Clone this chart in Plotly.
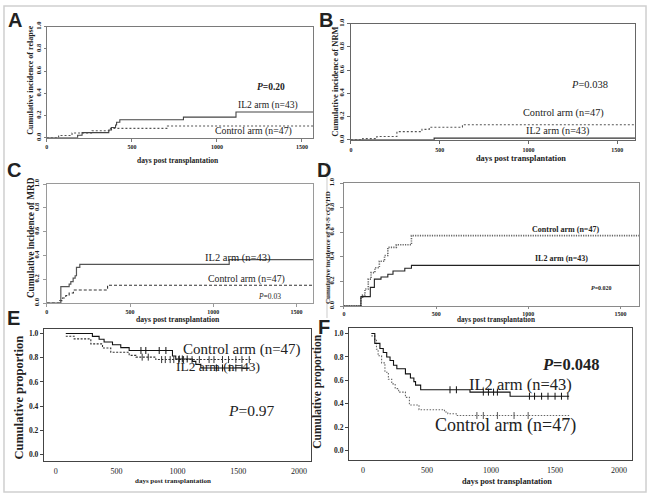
import plotly.graph_objects as go

W, H = 648, 497

# ---------------- data ----------------
# Panel A: cumulative incidence of relapse
A_il2_t = [0, 181, 207, 364, 380, 404, 410, 429, 803, 1112, 1565]
A_il2_v = [0, 0.023, 0.047, 0.070, 0.093, 0.116, 0.140, 0.163, 0.186, 0.233, 0.233]
A_ctl_t = [0, 69, 148, 266, 374, 709, 1565]
A_ctl_v = [0, 0.021, 0.043, 0.064, 0.085, 0.106, 0.106]

# Panel B: cumulative incidence of NRM
B_ctl_t = [0, 66, 146, 259, 400, 441, 628, 1600]
B_ctl_v = [0, 0.010, 0.028, 0.070, 0.090, 0.108, 0.130, 0.130]
B_il2_t = [0, 469, 1600]
B_il2_v = [0, 0.015, 0.015]

# Panel C: cumulative incidence of MRD
C_il2_t = [0, 84, 134, 144, 158, 170, 178, 198, 1096, 1600]
C_il2_v = [0, 0.138, 0.160, 0.180, 0.210, 0.230, 0.300, 0.325, 0.366, 0.366]
C_ctl_t = [0, 78, 94, 114, 134, 160, 365, 1600]
C_ctl_v = [0, 0.021, 0.043, 0.064, 0.085, 0.110, 0.150, 0.150]

# Panel D: cumulative incidence of M-S cGVHD
D_il2_t = [0, 92, 143, 165, 201, 238, 266, 330, 366, 1600]
D_il2_v = [0, 0.077, 0.152, 0.219, 0.237, 0.259, 0.285, 0.307, 0.331, 0.331]
D_ctl_t = [0, 92, 101, 114, 132, 147, 168, 192, 220, 238, 284, 366, 1600]
D_ctl_v = [0, 0.072, 0.090, 0.139, 0.219, 0.272, 0.312, 0.365, 0.411, 0.477, 0.499, 0.573, 0.573]

# Panel E: cumulative proportion (KM)
E_il2_t = [82, 301, 356, 397, 466, 534, 603, 959, 986, 1123, 1151, 1192, 1595]
E_il2_v = [1.0, 0.977, 0.953, 0.930, 0.907, 0.884, 0.860, 0.814, 0.790, 0.770, 0.745, 0.716, 0.716]
E_ctl_t = [82, 151, 288, 384, 452, 603, 658, 822, 1603]
E_ctl_v = [0.978, 0.956, 0.915, 0.880, 0.845, 0.820, 0.805, 0.785, 0.785]
E_il2_cens = [700, 740, 850, 905, 1015, 1040, 1080, 1320, 1370, 1430, 1480, 1530]
E_ctl_cens = [710, 760, 870, 900, 940, 970, 1010, 1050, 1120, 1180, 1260, 1300,
              1370, 1420, 1480, 1530, 1590]

# Panel F: cumulative proportion (KM)
F_il2_t = [66, 93, 133, 159, 186, 212, 239, 265, 332, 371, 398, 411, 451, 836, 1149, 1610]
F_il2_v = [1.0, 0.916, 0.872, 0.838, 0.800, 0.770, 0.730, 0.700, 0.656, 0.620, 0.590,
           0.560, 0.520, 0.500, 0.465, 0.465]
F_ctl_t = [66, 93, 106, 119, 146, 172, 199, 225, 252, 279, 332, 363, 438, 637, 663, 729, 1610]
F_ctl_v = [0.980, 0.950, 0.866, 0.810, 0.750, 0.670, 0.610, 0.570, 0.530, 0.500, 0.455,
           0.390, 0.350, 0.330, 0.315, 0.300, 0.300]
F_il2_cens = [680, 730, 940, 980, 1020, 1050, 1300, 1340, 1395, 1445, 1500, 1550, 1600]
F_ctl_cens = [890, 940, 1050, 1180, 1290]

ci_xticks = [0, 500, 1000, 1500]
km_xticks = [0, 500, 1000, 1500, 2000]
yticks = [0, 0.2, 0.4, 0.6, 0.8, 1.0]
ytick_text = ["0.0", "0.2", "0.4", "0.6", "0.8", "1.0"]

SERIF = "Liberation Serif, Times New Roman, serif"
SANS = "Liberation Sans, Arial, sans-serif"


def fx(p):
    return p / W


def fy(p):
    return 1 - p / H


def step_at(ts, vs, t):
    v = vs[0]
    for ti, vi in zip(ts, vs):
        if ti <= t:
            v = vi
    return v


fig = go.Figure()
layout = {}

# panel geometry (pixels): left, top, right, bottom
panels = {
    "A": dict(n=1, box=(45, 22, 312, 135), xr=[0, 1565], yr=[0, 1]),
    "B": dict(n=2, box=(350, 19, 635, 137), xr=[0, 1600], yr=[0, 1]),
    "C": dict(n=3, box=(45, 182, 312, 303), xr=[0, 1600], yr=[0, 1]),
    "D": dict(n=4, box=(343, 181, 639, 306), xr=[0, 1600], yr=[0, 1]),
    "E": dict(n=5, box=(42, 329, 310, 463), xr=[-98, 2098], yr=[-0.049, 1.04]),
    "F": dict(n=6, box=(348, 328, 632, 462), xr=[-109, 2101], yr=[-0.076, 1.05]),
}

ci_style = {
    "A": dict(lc="#7a7a7a", xlen=3, xst=0, ylen=2, yst=0),
    "B": dict(lc="#666666", xlen=3, xst=1, ylen=3, yst=0),
    "C": dict(lc="#9a9a9a", xlen=3, xst=0, ylen=3, yst=1),
    "D": dict(lc="#8a8a8a", xlen=2, xst=0, ylen=3, yst=3),
}

for key, p in panels.items():
    n = p["n"]
    l, t, r, b = p["box"]
    xa = "xaxis" if n == 1 else f"xaxis{n}"
    ya = "yaxis" if n == 1 else f"yaxis{n}"
    if key in ci_style:
        s = ci_style[key]
        layout[xa] = dict(domain=[fx(l), fx(r)], range=p["xr"], anchor=f"y{'' if n == 1 else n}",
                          tickvals=ci_xticks, ticks="outside", ticklen=s["xlen"], tickcolor=s["lc"],
                          ticklabelstandoff=s["xst"],
                          tickfont=dict(family=SERIF, size=6, color="#222", weight="bold"),
                          showline=True, mirror=True, linecolor=s["lc"], linewidth=1,
                          showgrid=False, zeroline=False, fixedrange=True)
        layout[ya] = dict(domain=[fy(b), fy(t)], range=p["yr"], anchor=f"x{'' if n == 1 else n}",
                          tickvals=yticks, ticktext=ytick_text, tickangle=-90,
                          ticks="outside", ticklen=s["ylen"], tickcolor=s["lc"],
                          ticklabelstandoff=s["yst"],
                          tickfont=dict(family=SERIF, size=6.5, color="#222", weight="bold"),
                          showline=True, mirror=True, linecolor=s["lc"], linewidth=1,
                          showgrid=False, zeroline=False, fixedrange=True)
    else:
        layout[xa] = dict(domain=[fx(l), fx(r)], range=p["xr"], anchor=f"y{n}",
                          tickvals=km_xticks, ticks="", ticklabelstandoff=3,
                          tickfont=dict(family=SERIF, size=8, color="#222"),
                          showline=True, mirror=True, linecolor="#444", linewidth=1,
                          showgrid=False, zeroline=False, fixedrange=True)
        layout[ya] = dict(domain=[fy(b), fy(t)], range=p["yr"], anchor=f"x{n}",
                          tickvals=yticks, ticktext=ytick_text, ticks="outside", ticklen=3,
                          tickcolor="#444", ticklabelstandoff=0,
                          tickfont=dict(family=SERIF, size=7.5, color="#222", weight="bold"),
                          showline=True, mirror=True, linecolor="#444", linewidth=1,
                          showgrid=False, zeroline=False, fixedrange=True)


def add_line(n, ts, vs, color, dash, width=1.1):
    fig.add_trace(go.Scatter(x=ts, y=vs, mode="lines", line=dict(color=color, width=width,
                                                                 dash=dash, shape="hv"),
                             xaxis="x" if n == 1 else f"x{n}", yaxis="y" if n == 1 else f"y{n}",
                             showlegend=False, hoverinfo="skip"))


def add_cens(n, ts, vs, cens, color):
    fig.add_trace(go.Scatter(x=cens, y=[step_at(ts, vs, c) for c in cens], mode="markers",
                             marker=dict(symbol="line-ns-open", size=5, color=color,
                                         line=dict(color=color, width=1)),
                             xaxis=f"x{n}", yaxis=f"y{n}", showlegend=False, hoverinfo="skip"))


add_line(1, A_ctl_t, A_ctl_v, "#555", "2px,2px")
add_line(1, A_il2_t, A_il2_v, "#444", "solid")
add_line(2, B_ctl_t, B_ctl_v, "#555", "2px,2px")
add_line(2, B_il2_t, B_il2_v, "#333", "solid", 1.3)
add_line(3, C_ctl_t, C_ctl_v, "#333", "3px,2px")
add_line(3, C_il2_t, C_il2_v, "#555", "solid", 1.2)
add_line(4, D_ctl_t, D_ctl_v, "#666", "1.2px,1.2px", 1.6)
add_line(4, D_il2_t, D_il2_v, "#222", "solid", 1.1)
add_line(5, E_ctl_t, E_ctl_v, "#333", "2px,1.5px")
add_line(5, E_il2_t, E_il2_v, "#111", "solid")
add_cens(5, E_ctl_t, E_ctl_v, E_ctl_cens, "#333")
add_cens(5, E_il2_t, E_il2_v, E_il2_cens, "#111")
add_line(6, F_ctl_t, F_ctl_v, "#666", "1.5px,1.5px")
add_line(6, F_il2_t, F_il2_v, "#111", "solid")
add_cens(6, F_ctl_t, F_ctl_v, F_ctl_cens, "#555")
add_cens(6, F_il2_t, F_il2_v, F_il2_cens, "#111")

ann = []
ROT_SHIFT = -4  # small correction for rotated annotation placement


def txt(x, y, s, size, family=SERIF, bold=False, color="#222", angle=0):
    if angle:
        x = x + ROT_SHIFT
    ann.append(dict(x=fx(x), y=fy(y), xref="paper", yref="paper", text=s, showarrow=False,
                    xanchor="center", yanchor="middle", textangle=angle,
                    font=dict(family=family, size=size, color=color,
                              weight="bold" if bold else "normal")))


# panel letters
for L, (x, y) in {"A": (13, 15), "B": (325, 15), "C": (12, 168), "D": (323, 168),
                  "E": (12, 318), "F": (323, 327)}.items():
    txt(x, y, L, 20, family=SANS, bold=True, color="#222")

# Panel A texts
txt(33, 76, "Cumulative incidence of relapse", 8, bold=True, angle=-90)
txt(177, 158, "days post transplantation", 7.5, bold=True)
txt(270, 83, "<i>P</i>=0.20", 9.5, bold=True)
txt(267, 102, "IL2 arm (n=43)", 9.6)
txt(252, 128, "Control arm (n=47)", 9.8)

# Panel B texts
txt(338, 78, "Cumulative incidence of NRM", 8.5, bold=True, angle=-90)
txt(521, 156, "days post transplantation", 8.3, bold=True)
txt(589, 81, "<i>P</i>=0.038", 10.5)
txt(563, 110, "Control arm (n=47)", 10.3)
txt(557, 128, "IL2 arm (n=43)", 10.2)

# Panel C texts
txt(33, 236, "Cumulative incidence of MRD", 9.3, bold=True, angle=-90)
txt(177, 320, "days post transplantation", 7.7, bold=True)
txt(237, 257, "IL2 arm (n=43)", 10.5)
txt(245, 278, "Control arm (n=47)", 9.8)
txt(268, 296, "<i>P</i>=0.03", 7.5)

# Panel D texts
txt(331, 246, "Cumulative incidence of M-S cGVHD", 7, bold=True, angle=-90)
txt(496, 320, "days post transplantation", 7.2, bold=True)
txt(565, 228, "Control arm (n=47)", 8, bold=True)
txt(561, 258, "IL2 arm (n=43)", 8, bold=True)
txt(601, 288, "<i>P</i>=0.020", 6, bold=True)

# Panel E texts
txt(21, 399, "Cumulative proportion", 12.5, bold=True, angle=-90)
txt(172, 484, "days post transplantation", 7, bold=True)
txt(241, 350, "Control arm (n=47)", 15)
txt(217, 367, "IL2 arm (n=43)", 13.5)
txt(250, 412, "<i>P</i>=0.97", 15.5)

# Panel F texts
txt(321, 393, "Cumulative proportion", 11.5, bold=True, angle=-90)
txt(507, 484, "days post transplantation", 8.3, bold=True)
txt(571, 365, "<i>P</i>=0.048", 16.5, bold=True)
txt(520, 386, "IL2 arm (n=43)", 16.5)
txt(505, 427, "Control arm (n=47)", 18)

shapes = [
    dict(type="rect", xref="paper", yref="paper", x0=fx(2), y0=fy(495), x1=fx(646), y1=fy(1),
         line=dict(color="#cfcfcf", width=1.5), fillcolor="rgba(0,0,0,0)"),
    dict(type="line", xref="paper", yref="paper", x0=fx(326), y0=fy(160), x1=fx(326), y1=fy(318),
         line=dict(color="#dddddd", width=1.5)),
]

fig.update_layout(width=W, height=H, margin=dict(l=0, r=0, t=0, b=0),
                  paper_bgcolor="white", plot_bgcolor="white",
                  annotations=ann, shapes=shapes, showlegend=False, **layout)

fig.write_html("out.html", config={"displayModeBar": False},
               post_script="document.body.style.margin='0';document.body.style.overflow='hidden';")
